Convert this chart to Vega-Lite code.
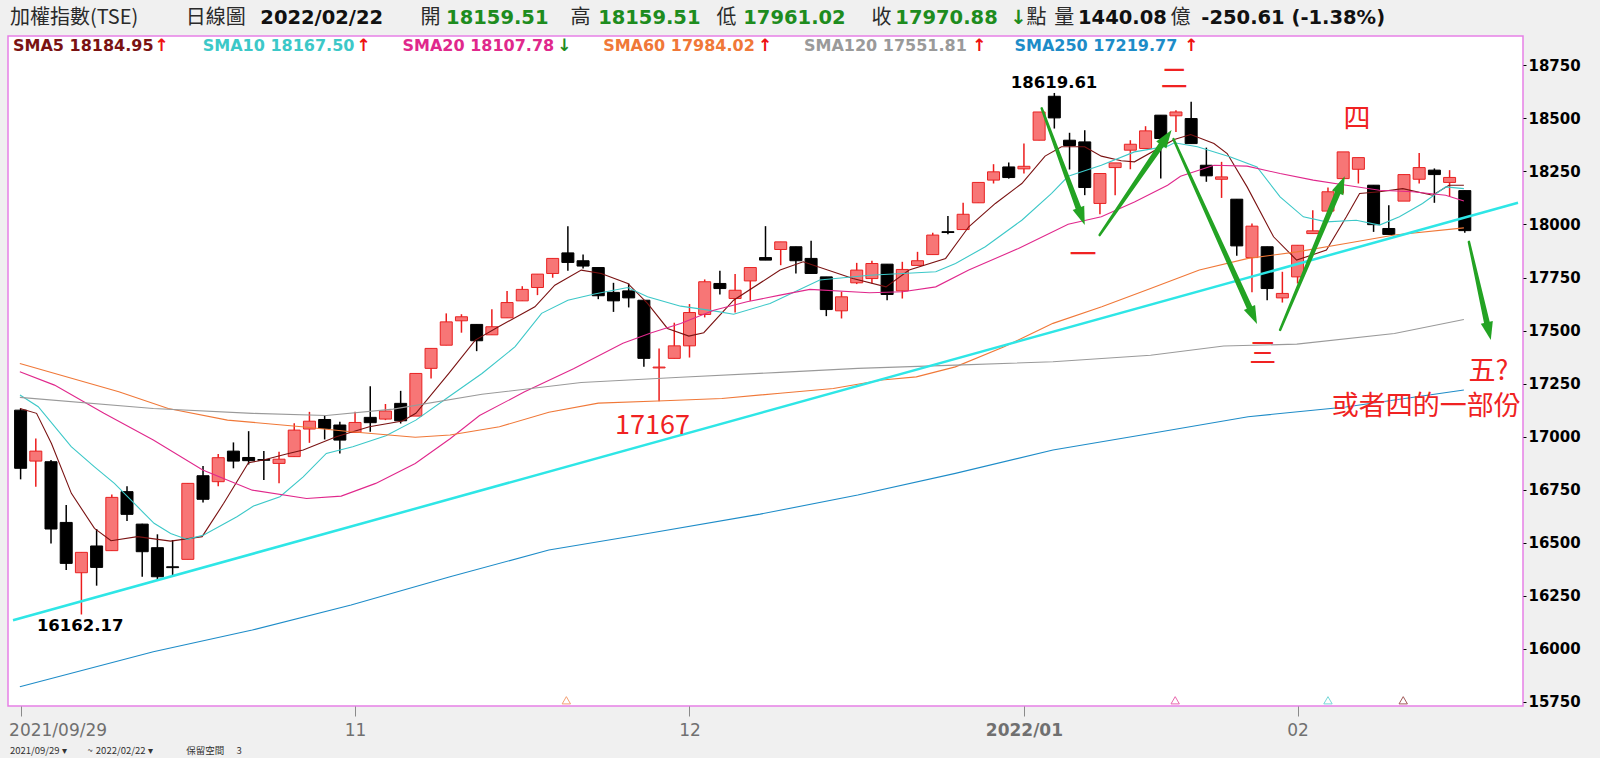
{
  "$schema": "https://vega.github.io/schema/vega-lite/v6.json",
  "width": 1515,
  "height": 670,
  "autosize": {"type": "none"},
  "padding": {"left": 8, "top": 36, "right": 77, "bottom": 52},
  "background": "#f0f0f0",
  "config": {"view": {"fill": "white", "stroke": "#e680e6", "strokeWidth": 1.5}},
  "datasets": {
    "k": [
      {"date":"2021-09-29","i":0,"o":17125,"h":17133,"l":16799,"c":16851},
      {"date":"2021-09-30","i":1,"o":16885,"h":16992,"l":16764,"c":16932},
      {"date":"2021-10-01","i":2,"o":16882,"h":16890,"l":16497,"c":16565},
      {"date":"2021-10-04","i":3,"o":16596,"h":16678,"l":16372,"c":16403},
      {"date":"2021-10-05","i":4,"o":16359,"h":16455,"l":16162.17,"c":16455},
      {"date":"2021-10-06","i":5,"o":16485,"h":16565,"l":16298,"c":16384},
      {"date":"2021-10-07","i":6,"o":16463,"h":16728,"l":16463,"c":16714},
      {"date":"2021-10-08","i":7,"o":16741,"h":16767,"l":16603,"c":16634},
      {"date":"2021-10-12","i":8,"o":16588,"h":16590,"l":16340,"c":16458},
      {"date":"2021-10-13","i":9,"o":16477,"h":16540,"l":16320,"c":16340},
      {"date":"2021-10-14","i":10,"o":16387,"h":16513,"l":16340,"c":16383},
      {"date":"2021-10-15","i":11,"o":16422,"h":16780,"l":16422,"c":16780},
      {"date":"2021-10-18","i":12,"o":16816,"h":16862,"l":16690,"c":16705},
      {"date":"2021-10-19","i":13,"o":16788,"h":16918,"l":16767,"c":16901},
      {"date":"2021-10-20","i":14,"o":16932,"h":16973,"l":16851,"c":16885},
      {"date":"2021-10-21","i":15,"o":16902,"h":17026,"l":16869,"c":16887},
      {"date":"2021-10-22","i":16,"o":16892,"h":16932,"l":16796,"c":16889},
      {"date":"2021-10-25","i":17,"o":16874,"h":16929,"l":16780,"c":16894},
      {"date":"2021-10-26","i":18,"o":16906,"h":17063,"l":16906,"c":17031},
      {"date":"2021-10-27","i":19,"o":17036,"h":17117,"l":16971,"c":17073},
      {"date":"2021-10-28","i":20,"o":17081,"h":17102,"l":16987,"c":17039},
      {"date":"2021-10-29","i":21,"o":17055,"h":17070,"l":16921,"c":16984},
      {"date":"2021-11-01","i":22,"o":17020,"h":17117,"l":17020,"c":17067},
      {"date":"2021-11-02","i":23,"o":17091,"h":17238,"l":17023,"c":17066},
      {"date":"2021-11-03","i":24,"o":17083,"h":17154,"l":17078,"c":17121},
      {"date":"2021-11-04","i":25,"o":17157,"h":17216,"l":17062,"c":17075},
      {"date":"2021-11-05","i":26,"o":17097,"h":17298,"l":17097,"c":17298},
      {"date":"2021-11-08","i":27,"o":17322,"h":17416,"l":17274,"c":17416},
      {"date":"2021-11-09","i":28,"o":17431,"h":17581,"l":17431,"c":17541},
      {"date":"2021-11-10","i":29,"o":17546,"h":17577,"l":17490,"c":17565},
      {"date":"2021-11-11","i":30,"o":17529,"h":17529,"l":17403,"c":17452},
      {"date":"2021-11-12","i":31,"o":17480,"h":17601,"l":17480,"c":17518},
      {"date":"2021-11-15","i":32,"o":17560,"h":17687,"l":17560,"c":17632},
      {"date":"2021-11-16","i":33,"o":17640,"h":17709,"l":17640,"c":17694},
      {"date":"2021-11-17","i":34,"o":17703,"h":17766,"l":17667,"c":17766},
      {"date":"2021-11-18","i":35,"o":17769,"h":17840,"l":17749,"c":17840},
      {"date":"2021-11-19","i":36,"o":17866,"h":17992,"l":17782,"c":17821},
      {"date":"2021-11-22","i":37,"o":17829,"h":17858,"l":17793,"c":17804},
      {"date":"2021-11-23","i":38,"o":17797,"h":17797,"l":17648,"c":17664},
      {"date":"2021-11-24","i":39,"o":17680,"h":17725,"l":17588,"c":17640},
      {"date":"2021-11-25","i":40,"o":17687,"h":17722,"l":17609,"c":17654},
      {"date":"2021-11-26","i":41,"o":17643,"h":17643,"l":17329,"c":17369},
      {"date":"2021-11-29","i":42,"o":17324,"h":17416,"l":17167,"c":17328},
      {"date":"2021-11-30","i":43,"o":17369,"h":17537,"l":17369,"c":17428},
      {"date":"2021-12-01","i":44,"o":17428,"h":17625,"l":17373,"c":17585},
      {"date":"2021-12-02","i":45,"o":17576,"h":17741,"l":17562,"c":17730},
      {"date":"2021-12-03","i":46,"o":17722,"h":17782,"l":17670,"c":17698},
      {"date":"2021-12-06","i":47,"o":17651,"h":17766,"l":17585,"c":17690},
      {"date":"2021-12-07","i":48,"o":17734,"h":17797,"l":17640,"c":17797},
      {"date":"2021-12-08","i":49,"o":17844,"h":17992,"l":17832,"c":17832},
      {"date":"2021-12-09","i":50,"o":17882,"h":17918,"l":17808,"c":17918},
      {"date":"2021-12-10","i":51,"o":17895,"h":17895,"l":17769,"c":17829},
      {"date":"2021-12-13","i":52,"o":17840,"h":17923,"l":17769,"c":17769},
      {"date":"2021-12-14","i":53,"o":17753,"h":17753,"l":17568,"c":17599},
      {"date":"2021-12-15","i":54,"o":17593,"h":17683,"l":17557,"c":17659},
      {"date":"2021-12-16","i":55,"o":17725,"h":17819,"l":17719,"c":17785},
      {"date":"2021-12-17","i":56,"o":17745,"h":17829,"l":17722,"c":17816},
      {"date":"2021-12-20","i":57,"o":17813,"h":17813,"l":17643,"c":17670},
      {"date":"2021-12-21","i":58,"o":17687,"h":17824,"l":17651,"c":17788},
      {"date":"2021-12-22","i":59,"o":17807,"h":17871,"l":17807,"c":17829},
      {"date":"2021-12-23","i":60,"o":17858,"h":17961,"l":17858,"c":17950},
      {"date":"2021-12-24","i":61,"o":17966,"h":18040,"l":17954,"c":17962},
      {"date":"2021-12-27","i":62,"o":17976,"h":18102,"l":17976,"c":18048},
      {"date":"2021-12-28","i":63,"o":18102,"h":18198,"l":18102,"c":18198},
      {"date":"2021-12-29","i":64,"o":18209,"h":18284,"l":18193,"c":18248},
      {"date":"2021-12-30","i":65,"o":18271,"h":18292,"l":18216,"c":18221},
      {"date":"2022-01-03","i":66,"o":18262,"h":18381,"l":18240,"c":18274},
      {"date":"2022-01-04","i":67,"o":18397,"h":18530,"l":18397,"c":18530},
      {"date":"2022-01-05","i":68,"o":18604,"h":18619.61,"l":18452,"c":18502},
      {"date":"2022-01-06","i":69,"o":18397,"h":18432,"l":18259,"c":18372},
      {"date":"2022-01-07","i":70,"o":18389,"h":18444,"l":18138,"c":18174},
      {"date":"2022-01-10","i":71,"o":18099,"h":18240,"l":18048,"c":18240},
      {"date":"2022-01-11","i":72,"o":18268,"h":18290,"l":18138,"c":18290},
      {"date":"2022-01-12","i":73,"o":18350,"h":18397,"l":18260,"c":18378},
      {"date":"2022-01-13","i":74,"o":18358,"h":18463,"l":18358,"c":18441},
      {"date":"2022-01-14","i":75,"o":18515,"h":18515,"l":18216,"c":18405},
      {"date":"2022-01-17","i":76,"o":18512,"h":18538,"l":18436,"c":18530},
      {"date":"2022-01-18","i":77,"o":18499,"h":18578,"l":18381,"c":18381},
      {"date":"2022-01-19","i":78,"o":18279,"h":18362,"l":18201,"c":18229},
      {"date":"2022-01-20","i":79,"o":18213,"h":18295,"l":18125,"c":18224},
      {"date":"2022-01-21","i":80,"o":18119,"h":18119,"l":17852,"c":17899},
      {"date":"2022-01-24","i":81,"o":17844,"h":18004,"l":17680,"c":17992},
      {"date":"2022-01-25","i":82,"o":17895,"h":17895,"l":17643,"c":17698},
      {"date":"2022-01-26","i":83,"o":17654,"h":17777,"l":17632,"c":17675},
      {"date":"2022-02-07","i":84,"o":17753,"h":17902,"l":17722,"c":17902},
      {"date":"2022-02-08","i":85,"o":17957,"h":18067,"l":17957,"c":17970},
      {"date":"2022-02-09","i":86,"o":18063,"h":18174,"l":18063,"c":18154},
      {"date":"2022-02-10","i":87,"o":18216,"h":18342,"l":18146,"c":18342},
      {"date":"2022-02-11","i":88,"o":18260,"h":18315,"l":18193,"c":18315},
      {"date":"2022-02-14","i":89,"o":18185,"h":18185,"l":17965,"c":17999},
      {"date":"2022-02-15","i":90,"o":17981,"h":18091,"l":17953,"c":17953},
      {"date":"2022-02-16","i":91,"o":18110,"h":18235,"l":18110,"c":18235},
      {"date":"2022-02-17","i":92,"o":18213,"h":18337,"l":18193,"c":18268},
      {"date":"2022-02-18","i":93,"o":18256,"h":18264,"l":18102,"c":18235},
      {"date":"2022-02-21","i":94,"o":18198,"h":18256,"l":18130,"c":18221.49},
      {"date":"2022-02-22","i":95,"o":18159.51,"h":18159.51,"l":17961.02,"c":17970.88}
    ],
    "ma": [
      {"s":"SMA5","i":-0.04,"v":17133},{"s":"SMA5","i":1.05,"v":17110},{"s":"SMA5","i":2.03,"v":16968},{"s":"SMA5","i":3.34,"v":16733},{"s":"SMA5","i":4.86,"v":16568},{"s":"SMA5","i":5.95,"v":16510},{"s":"SMA5","i":7.69,"v":16529},{"s":"SMA5","i":9.87,"v":16508},{"s":"SMA5","i":11.94,"v":16529},{"s":"SMA5","i":13.36,"v":16686},{"s":"SMA5","i":14.99,"v":16877},{"s":"SMA5","i":15.97,"v":16890},{"s":"SMA5","i":17.49,"v":16918},{"s":"SMA5","i":18.59,"v":16937},{"s":"SMA5","i":20.76,"v":17000},{"s":"SMA5","i":22.94,"v":17047},{"s":"SMA5","i":25.12,"v":17074},{"s":"SMA5","i":26.0,"v":17110},{"s":"SMA5","i":28.17,"v":17298},{"s":"SMA5","i":29.91,"v":17455},{"s":"SMA5","i":31.44,"v":17518},{"s":"SMA5","i":33.83,"v":17612},{"s":"SMA5","i":35.14,"v":17714},{"s":"SMA5","i":36.88,"v":17785},{"s":"SMA5","i":38.19,"v":17769},{"s":"SMA5","i":39.94,"v":17722},{"s":"SMA5","i":41.24,"v":17628},{"s":"SMA5","i":42.55,"v":17510},{"s":"SMA5","i":43.96,"v":17474},{"s":"SMA5","i":44.94,"v":17490},{"s":"SMA5","i":46.9,"v":17643},{"s":"SMA5","i":49.96,"v":17785},{"s":"SMA5","i":51.48,"v":17824},{"s":"SMA5","i":54.75,"v":17745},{"s":"SMA5","i":56.93,"v":17706},{"s":"SMA5","i":58.45,"v":17785},{"s":"SMA5","i":60.85,"v":17840},{"s":"SMA5","i":62.37,"v":17989},{"s":"SMA5","i":64.12,"v":18099},{"s":"SMA5","i":65.86,"v":18193},{"s":"SMA5","i":67.39,"v":18322},{"s":"SMA5","i":68.47,"v":18366},{"s":"SMA5","i":70,"v":18366},{"s":"SMA5","i":71.09,"v":18322},{"s":"SMA5","i":72.4,"v":18300},{"s":"SMA5","i":73.27,"v":18295},{"s":"SMA5","i":75.89,"v":18400},{"s":"SMA5","i":76.97,"v":18424},{"s":"SMA5","i":78.5,"v":18381},{"s":"SMA5","i":79.37,"v":18334},{"s":"SMA5","i":80.68,"v":18177},{"s":"SMA5","i":82.42,"v":17942},{"s":"SMA5","i":83.94,"v":17832},{"s":"SMA5","i":85.9,"v":17879},{"s":"SMA5","i":87.21,"v":18036},{"s":"SMA5","i":88.08,"v":18146},{"s":"SMA5","i":89.39,"v":18154},{"s":"SMA5","i":90.92,"v":18169},{"s":"SMA5","i":92.88,"v":18138},{"s":"SMA5","i":93.96,"v":18185},{"s":"SMA5","i":94.94,"v":18185},
      {"s":"SMA10","i":-0.04,"v":17196},{"s":"SMA10","i":1.16,"v":17141},{"s":"SMA10","i":3.33,"v":16953},{"s":"SMA10","i":4.86,"v":16858},{"s":"SMA10","i":6.17,"v":16780},{"s":"SMA10","i":7.69,"v":16670},{"s":"SMA10","i":8.78,"v":16592},{"s":"SMA10","i":9.87,"v":16544},{"s":"SMA10","i":10.96,"v":16516},{"s":"SMA10","i":12.05,"v":16537},{"s":"SMA10","i":14.23,"v":16623},{"s":"SMA10","i":15.32,"v":16673},{"s":"SMA10","i":17.06,"v":16717},{"s":"SMA10","i":18.59,"v":16811},{"s":"SMA10","i":20.11,"v":16921},{"s":"SMA10","i":21.85,"v":16953},{"s":"SMA10","i":24.03,"v":17004},{"s":"SMA10","i":26.0,"v":17078},{"s":"SMA10","i":28.17,"v":17188},{"s":"SMA10","i":30.35,"v":17298},{"s":"SMA10","i":32.53,"v":17424},{"s":"SMA10","i":34.27,"v":17581},{"s":"SMA10","i":36.0,"v":17643},{"s":"SMA10","i":37.75,"v":17672},{"s":"SMA10","i":39.94,"v":17703},{"s":"SMA10","i":41.24,"v":17659},{"s":"SMA10","i":43.42,"v":17615},{"s":"SMA10","i":45.6,"v":17593},{"s":"SMA10","i":46.9,"v":17577},{"s":"SMA10","i":49.3,"v":17628},{"s":"SMA10","i":52.57,"v":17738},{"s":"SMA10","i":55.84,"v":17761},{"s":"SMA10","i":58.02,"v":17769},{"s":"SMA10","i":60.2,"v":17777},{"s":"SMA10","i":61.5,"v":17816},{"s":"SMA10","i":63.46,"v":17895},{"s":"SMA10","i":65.86,"v":18020},{"s":"SMA10","i":67.82,"v":18146},{"s":"SMA10","i":68.91,"v":18227},{"s":"SMA10","i":71.09,"v":18279},{"s":"SMA10","i":73.27,"v":18342},{"s":"SMA10","i":75.45,"v":18369},{"s":"SMA10","i":75.89,"v":18385},{"s":"SMA10","i":77.41,"v":18366},{"s":"SMA10","i":79.59,"v":18318},{"s":"SMA10","i":81.33,"v":18271},{"s":"SMA10","i":82.85,"v":18130},{"s":"SMA10","i":84.38,"v":18036},{"s":"SMA10","i":85.9,"v":18012},{"s":"SMA10","i":87.86,"v":18020},{"s":"SMA10","i":89.39,"v":17997},{"s":"SMA10","i":90.7,"v":18036},{"s":"SMA10","i":92.22,"v":18099},{"s":"SMA10","i":93.74,"v":18177},{"s":"SMA10","i":94.94,"v":18169},
      {"s":"SMA20","i":-0.05,"v":17306},{"s":"SMA20","i":2.23,"v":17243},{"s":"SMA20","i":5.48,"v":17110},{"s":"SMA20","i":8.73,"v":16984},{"s":"SMA20","i":11.98,"v":16843},{"s":"SMA20","i":15.24,"v":16748},{"s":"SMA20","i":18.81,"v":16709},{"s":"SMA20","i":21.09,"v":16720},{"s":"SMA20","i":23.36,"v":16780},{"s":"SMA20","i":25.96,"v":16874},{"s":"SMA20","i":28.25,"v":16990},{"s":"SMA20","i":30.19,"v":17100},{"s":"SMA20","i":33.12,"v":17210},{"s":"SMA20","i":36.37,"v":17320},{"s":"SMA20","i":39.62,"v":17440},{"s":"SMA20","i":41.5,"v":17490},{"s":"SMA20","i":43.42,"v":17533},{"s":"SMA20","i":45.6,"v":17596},{"s":"SMA20","i":47.78,"v":17636},{"s":"SMA20","i":49.96,"v":17667},{"s":"SMA20","i":51.92,"v":17694},{"s":"SMA20","i":55.84,"v":17678},{"s":"SMA20","i":58.02,"v":17683},{"s":"SMA20","i":60.2,"v":17706},{"s":"SMA20","i":62.37,"v":17785},{"s":"SMA20","i":65.64,"v":17887},{"s":"SMA20","i":68.91,"v":18001},{"s":"SMA20","i":71.09,"v":18036},{"s":"SMA20","i":73.27,"v":18106},{"s":"SMA20","i":75.45,"v":18185},{"s":"SMA20","i":76.3,"v":18227},{"s":"SMA20","i":78.5,"v":18279},{"s":"SMA20","i":80.68,"v":18275},{"s":"SMA20","i":82.85,"v":18240},{"s":"SMA20","i":85.03,"v":18209},{"s":"SMA20","i":87.21,"v":18185},{"s":"SMA20","i":89.39,"v":18161},{"s":"SMA20","i":91.57,"v":18154},{"s":"SMA20","i":93.74,"v":18138},{"s":"SMA20","i":94.94,"v":18111},
      {"s":"SMA60","i":-0.05,"v":17345},{"s":"SMA60","i":6.46,"v":17212},{"s":"SMA60","i":9.71,"v":17133},{"s":"SMA60","i":13.61,"v":17078},{"s":"SMA60","i":18.49,"v":17047},{"s":"SMA60","i":21.74,"v":17023},{"s":"SMA60","i":25.96,"v":16997},{"s":"SMA60","i":28.25,"v":17008},{"s":"SMA60","i":31.5,"v":17047},{"s":"SMA60","i":34.75,"v":17115},{"s":"SMA60","i":38.0,"v":17158},{"s":"SMA60","i":41.9,"v":17168},{"s":"SMA60","i":46.13,"v":17180},{"s":"SMA60","i":49.96,"v":17205},{"s":"SMA60","i":53.46,"v":17227},{"s":"SMA60","i":56.67,"v":17267},{"s":"SMA60","i":58.92,"v":17282},{"s":"SMA60","i":61.49,"v":17329},{"s":"SMA60","i":64.7,"v":17424},{"s":"SMA60","i":67.91,"v":17534},{"s":"SMA60","i":71.12,"v":17612},{"s":"SMA60","i":74.33,"v":17698},{"s":"SMA60","i":77.54,"v":17785},{"s":"SMA60","i":80.75,"v":17840},{"s":"SMA60","i":83.95,"v":17871},{"s":"SMA60","i":87.17,"v":17910},{"s":"SMA60","i":90.37,"v":17950},{"s":"SMA60","i":94.94,"v":17984},
      {"s":"SMA120","i":-0.05,"v":17185},{"s":"SMA120","i":8.73,"v":17133},{"s":"SMA120","i":15.24,"v":17110},{"s":"SMA120","i":20.11,"v":17100},{"s":"SMA120","i":24.5,"v":17130},{"s":"SMA120","i":30.35,"v":17200},{"s":"SMA120","i":36.88,"v":17255},{"s":"SMA120","i":43.42,"v":17280},{"s":"SMA120","i":49.96,"v":17303},{"s":"SMA120","i":55.07,"v":17322},{"s":"SMA120","i":61.49,"v":17337},{"s":"SMA120","i":67.91,"v":17353},{"s":"SMA120","i":74.33,"v":17384},{"s":"SMA120","i":79.14,"v":17427},{"s":"SMA120","i":83.95,"v":17436},{"s":"SMA120","i":90.37,"v":17486},{"s":"SMA120","i":94.94,"v":17552},
      {"s":"SMA250","i":-0.05,"v":15822},{"s":"SMA250","i":8.73,"v":15987},{"s":"SMA250","i":15.24,"v":16089},{"s":"SMA250","i":21.74,"v":16207},{"s":"SMA250","i":28.25,"v":16340},{"s":"SMA250","i":34.75,"v":16466},{"s":"SMA250","i":41.25,"v":16544},{"s":"SMA250","i":48.65,"v":16635},{"s":"SMA250","i":55.07,"v":16725},{"s":"SMA250","i":61.49,"v":16827},{"s":"SMA250","i":67.91,"v":16937},{"s":"SMA250","i":74.33,"v":17015},{"s":"SMA250","i":80.75,"v":17094},{"s":"SMA250","i":87.17,"v":17140},{"s":"SMA250","i":94.94,"v":17220}
    ],
    "trend": [{"i":-0.5,"v":16135},{"i":98.5,"v":18102}],
    "arrows": [
      {"arrow":"1","part":"start","i":67.17,"v":18547},{"arrow":"1","part":"neck","i":69.68,"v":18059},
      {"arrow":"2","part":"start","i":70.98,"v":17950},{"arrow":"2","part":"neck","i":75.19,"v":18391},
      {"arrow":"3","part":"start","i":75.84,"v":18402},{"arrow":"3","part":"neck","i":80.95,"v":17591},
      {"arrow":"4","part":"start","i":82.85,"v":17503},{"arrow":"4","part":"neck","i":86.75,"v":18168},
      {"arrow":"5","part":"start","i":95.27,"v":17918},{"arrow":"5","part":"neck","i":96.51,"v":17520}
    ],
    "heads": [
      {"arrow":"1","i":70.0,"v":17998},
      {"arrow":"2","i":75.71,"v":18445},
      {"arrow":"3","i":81.33,"v":17531},
      {"arrow":"4","i":87.1,"v":18227},
      {"arrow":"5","i":96.71,"v":17456}
    ],
    "notes": [
      {"t":"17167","i":41.57,"v":17050},
      {"t":"一","i":69.89,"v":17853},
      {"t":"二","i":75.88,"v":18681},
      {"t":"三","i":81.71,"v":17385},
      {"t":"四","i":87.91,"v":18492},
      {"t":"五?","i":96.55,"v":17306},
      {"t":"或者四的一部份","i":92.47,"v":17141}
    ],
    "extremes": [
      {"t":"16162.17","i":3.92,"v":16108},
      {"t":"18619.61","i":67.98,"v":18668}
    ],
    "markers": [
      {"s":"SMA60","i":35.9,"v":15758},
      {"s":"SMA20","i":75.95,"v":15758},
      {"s":"SMA10","i":86.0,"v":15758},
      {"s":"SMA5","i":90.95,"v":15758}
    ],
    "hdrLabels": [
      {"t":"加權指數(TSE)","i":-0.7,"v":18973},
      {"t":"日線圖","i":10.87,"v":18973},
      {"t":"開","i":26.3,"v":18973},
      {"t":"高","i":36.17,"v":18973},
      {"t":"低","i":45.77,"v":18973},
      {"t":"收","i":55.97,"v":18973},
      {"t":"點","i":66.17,"v":18973},
      {"t":"量","i":68.0,"v":18973},
      {"t":"億","i":75.64,"v":18973}
    ],
    "hdrBlack": [
      {"t":"2022/02/22","i":15.77,"v":18973},
      {"t":"1440.08","i":69.56,"v":18973},
      {"t":"-250.61 (-1.38%)","i":77.67,"v":18973}
    ],
    "hdrGreen": [
      {"t":"18159.51","i":27.99,"v":18973},
      {"t":"18159.51","i":37.99,"v":18973},
      {"t":"17961.02","i":47.54,"v":18973},
      {"t":"17970.88","i":57.54,"v":18973},
      {"t":"↓","i":65.1,"v":18973}
    ],
    "smaLabels": [
      {"s":"SMA5","t":"SMA5 18184.95","i":-0.5,"v":18841},
      {"s":"SMA10","t":"SMA10 18167.50","i":11.98,"v":18841},
      {"s":"SMA20","t":"SMA20 18107.78","i":25.12,"v":18841},
      {"s":"SMA60","t":"SMA60 17984.02","i":38.32,"v":18841},
      {"s":"SMA120","t":"SMA120 17551.81","i":51.53,"v":18841},
      {"s":"SMA250","t":"SMA250 17219.77","i":65.38,"v":18841}
    ],
    "smaArrows": [
      {"t":"↑","i":8.8,"v":18841},
      {"t":"↑","i":22.1,"v":18841},
      {"t":"↓","i":35.3,"v":18841},
      {"t":"↑","i":48.5,"v":18841},
      {"t":"↑","i":62.6,"v":18841},
      {"t":"↑","i":76.55,"v":18841}
    ],
    "controls": [
      {"t":"2021/09/29 ▾","i":-0.7,"v":15517},
      {"t":"~","i":4.4,"v":15517},
      {"t":"2022/02/22 ▾","i":4.95,"v":15517},
      {"t":"保留空間","i":10.9,"v":15517},
      {"t":"3","i":14.2,"v":15517}
    ]
  },
  "layer": [
    {
      "data": {"name": "k"},
      "mark": {"type": "rule", "strokeWidth": 1.5},
      "encoding": {
        "x": {"field": "i", "type": "quantitative", "title": null, "scale": {"domain": [-0.5, 98.5], "nice": false, "zero": false},
          "axis": {"values": [0, 22, 44, 66, 84], "title": null, "grid": false, "domain": false, "labelOverlap": false, "labelFlush": false,
            "labelExpr": "datum.value == 0 ? '2021/09/29' : datum.value == 22 ? '11' : datum.value == 44 ? '12' : datum.value == 66 ? '2022/01' : '02'",
            "tickSize": 10, "tickColor": "#8a8a8a", "tickWidth": 1, "labelFont": "DejaVu Sans", "labelFontSize": 17, "labelColor": "#707070", "labelPadding": 6,
            "labelFontWeight": {"condition": {"test": "datum.value == 66", "value": "bold"}, "value": "normal"},
            "labelAlign": {"condition": {"test": "datum.value == 0", "value": "left"}, "value": "center"},
            "labelOffset": {"condition": {"test": "datum.value == 0", "value": -12}, "value": 0}}},
        "y": {"field": "l", "type": "quantitative", "title": null, "scale": {"domain": [15731, 18888], "nice": false, "zero": false},
          "axis": {"orient": "right", "format": "d", "values": [15750,15875,16000,16125,16250,16375,16500,16625,16750,16875,17000,17125,17250,17375,17500,17625,17750,17875,18000,18125,18250,18375,18500,18625,18750],
            "title": null, "grid": false, "domain": false, "labelOverlap": false, "labelFlush": false, "tickSize": 3, "tickColor": "#000", "labelFont": "DejaVu Sans", "labelFontSize": 15, "labelFontWeight": "bold", "labelColor": "#000", "labelPadding": 2}},
        "y2": {"field": "h"},
        "color": {"condition": {"test": "datum.c >= datum.o", "value": "#ec1c1c"}, "value": "#000000"}
      }
    },
    {
      "data": {"name": "k"},
      "mark": {"type": "bar", "size": 12, "strokeWidth": 1},
      "encoding": {
        "x": {"field": "i", "type": "quantitative", "title": null, "scale": {"domain": [-0.5, 98.5], "nice": false, "zero": false}},
        "y": {"field": "o", "type": "quantitative", "title": null, "scale": {"domain": [15731, 18888], "nice": false, "zero": false}},
        "y2": {"field": "c"},
        "fill": {"condition": {"test": "datum.c >= datum.o", "value": "#f77676"}, "value": "#000000"},
        "stroke": {"condition": {"test": "datum.c >= datum.o", "value": "#e82222"}, "value": "#000000"}
      }
    },
    {
      "data": {"name": "ma"},
      "mark": {"type": "line", "strokeWidth": 1.1},
      "encoding": {
        "x": {"field": "i", "type": "quantitative", "title": null, "scale": {"domain": [-0.5, 98.5], "nice": false, "zero": false}},
        "y": {"field": "v", "type": "quantitative", "title": null, "scale": {"domain": [15731, 18888], "nice": false, "zero": false}},
        "color": {"field": "s", "type": "nominal", "legend": null,
          "scale": {"domain": ["SMA5","SMA10","SMA20","SMA60","SMA120","SMA250"], "range": ["#7a1212","#3cc8c8","#e0288c","#f07838","#9a9a9a","#1e8cc8"]}}
      }
    },
    {
      "data": {"name": "trend"},
      "mark": {"type": "line", "strokeWidth": 2.5, "color": "#2ee6e6"},
      "encoding": {
        "x": {"field": "i", "type": "quantitative", "title": null, "scale": {"domain": [-0.5, 98.5], "nice": false, "zero": false}},
        "y": {"field": "v", "type": "quantitative", "title": null, "scale": {"domain": [15731, 18888], "nice": false, "zero": false}}
      }
    },
    {
      "data": {"name": "markers"},
      "mark": {"type": "point", "shape": "triangle-up", "filled": false, "size": 70, "strokeWidth": 1},
      "encoding": {
        "x": {"field": "i", "type": "quantitative", "title": null, "scale": {"domain": [-0.5, 98.5], "nice": false, "zero": false}},
        "y": {"field": "v", "type": "quantitative", "title": null, "scale": {"domain": [15731, 18888], "nice": false, "zero": false}},
        "color": {"field": "s", "type": "nominal", "legend": null}
      }
    },
    {
      "data": {"name": "arrows"},
      "mark": {"type": "trail", "color": "#23a323"},
      "encoding": {
        "x": {"field": "i", "type": "quantitative", "title": null, "scale": {"domain": [-0.5, 98.5], "nice": false, "zero": false}},
        "y": {"field": "v", "type": "quantitative", "title": null, "scale": {"domain": [15731, 18888], "nice": false, "zero": false}},
        "detail": {"field": "arrow", "type": "nominal"},
        "size": {"field": "part", "type": "nominal", "legend": null, "scale": {"domain": ["start", "neck"], "range": [2.5, 6]}}
      }
    },
    {
      "data": {"name": "heads"},
      "transform": [{"filter": "datum.arrow == '1'"}],
      "mark": {"type": "point", "shape": "M0,0L0.75,2.2L-0.75,2.2Z", "filled": true, "color": "#23a323", "opacity": 1, "size": 270, "angle": 159.6},
      "encoding": {
        "x": {"field": "i", "type": "quantitative", "title": null, "scale": {"domain": [-0.5, 98.5], "nice": false, "zero": false}},
        "y": {"field": "v", "type": "quantitative", "title": null, "scale": {"domain": [15731, 18888], "nice": false, "zero": false}}
      }
    },
    {
      "data": {"name": "heads"},
      "transform": [{"filter": "datum.arrow == '2'"}],
      "mark": {"type": "point", "shape": "M0,0L0.75,2.2L-0.75,2.2Z", "filled": true, "color": "#23a323", "opacity": 1, "size": 270, "angle": 34.5},
      "encoding": {
        "x": {"field": "i", "type": "quantitative", "title": null, "scale": {"domain": [-0.5, 98.5], "nice": false, "zero": false}},
        "y": {"field": "v", "type": "quantitative", "title": null, "scale": {"domain": [15731, 18888], "nice": false, "zero": false}}
      }
    },
    {
      "data": {"name": "heads"},
      "transform": [{"filter": "datum.arrow == '3'"}],
      "mark": {"type": "point", "shape": "M0,0L0.75,2.2L-0.75,2.2Z", "filled": true, "color": "#23a323", "opacity": 1, "size": 270, "angle": 155.5},
      "encoding": {
        "x": {"field": "i", "type": "quantitative", "title": null, "scale": {"domain": [-0.5, 98.5], "nice": false, "zero": false}},
        "y": {"field": "v", "type": "quantitative", "title": null, "scale": {"domain": [15731, 18888], "nice": false, "zero": false}}
      }
    },
    {
      "data": {"name": "heads"},
      "transform": [{"filter": "datum.arrow == '4'"}],
      "mark": {"type": "point", "shape": "M0,0L0.75,2.2L-0.75,2.2Z", "filled": true, "color": "#23a323", "opacity": 1, "size": 270, "angle": 22.9},
      "encoding": {
        "x": {"field": "i", "type": "quantitative", "title": null, "scale": {"domain": [-0.5, 98.5], "nice": false, "zero": false}},
        "y": {"field": "v", "type": "quantitative", "title": null, "scale": {"domain": [15731, 18888], "nice": false, "zero": false}}
      }
    },
    {
      "data": {"name": "heads"},
      "transform": [{"filter": "datum.arrow == '5'"}],
      "mark": {"type": "point", "shape": "M0,0L0.75,2.2L-0.75,2.2Z", "filled": true, "color": "#23a323", "opacity": 1, "size": 270, "angle": 167.3},
      "encoding": {
        "x": {"field": "i", "type": "quantitative", "title": null, "scale": {"domain": [-0.5, 98.5], "nice": false, "zero": false}},
        "y": {"field": "v", "type": "quantitative", "title": null, "scale": {"domain": [15731, 18888], "nice": false, "zero": false}}
      }
    },
    {
      "data": {"name": "notes"},
      "mark": {"type": "text", "font": "Noto Sans CJK TC", "fontSize": 27, "color": "#f02222", "align": "center", "baseline": "middle"},
      "encoding": {
        "x": {"field": "i", "type": "quantitative", "title": null, "scale": {"domain": [-0.5, 98.5], "nice": false, "zero": false}},
        "y": {"field": "v", "type": "quantitative", "title": null, "scale": {"domain": [15731, 18888], "nice": false, "zero": false}},
        "text": {"field": "t"}
      }
    },
    {
      "data": {"name": "extremes"},
      "mark": {"type": "text", "font": "DejaVu Sans", "fontSize": 16.5, "fontWeight": "bold", "color": "#000", "align": "center", "baseline": "middle"},
      "encoding": {
        "x": {"field": "i", "type": "quantitative", "title": null, "scale": {"domain": [-0.5, 98.5], "nice": false, "zero": false}},
        "y": {"field": "v", "type": "quantitative", "title": null, "scale": {"domain": [15731, 18888], "nice": false, "zero": false}},
        "text": {"field": "t"}
      }
    },
    {
      "data": {"name": "hdrLabels"},
      "mark": {"type": "text", "font": "Noto Sans CJK TC", "fontSize": 20, "color": "#2a2a2a", "align": "left", "baseline": "middle"},
      "encoding": {
        "x": {"field": "i", "type": "quantitative", "title": null, "scale": {"domain": [-0.5, 98.5], "nice": false, "zero": false}},
        "y": {"field": "v", "type": "quantitative", "title": null, "scale": {"domain": [15731, 18888], "nice": false, "zero": false}},
        "text": {"field": "t"}
      }
    },
    {
      "data": {"name": "hdrBlack"},
      "mark": {"type": "text", "font": "DejaVu Sans", "fontSize": 19.5, "fontWeight": "bold", "color": "#111", "align": "left", "baseline": "middle"},
      "encoding": {
        "x": {"field": "i", "type": "quantitative", "title": null, "scale": {"domain": [-0.5, 98.5], "nice": false, "zero": false}},
        "y": {"field": "v", "type": "quantitative", "title": null, "scale": {"domain": [15731, 18888], "nice": false, "zero": false}},
        "text": {"field": "t"}
      }
    },
    {
      "data": {"name": "hdrGreen"},
      "mark": {"type": "text", "font": "DejaVu Sans", "fontSize": 19.5, "fontWeight": "bold", "color": "#1e8c1e", "align": "left", "baseline": "middle"},
      "encoding": {
        "x": {"field": "i", "type": "quantitative", "title": null, "scale": {"domain": [-0.5, 98.5], "nice": false, "zero": false}},
        "y": {"field": "v", "type": "quantitative", "title": null, "scale": {"domain": [15731, 18888], "nice": false, "zero": false}},
        "text": {"field": "t"}
      }
    },
    {
      "data": {"name": "smaLabels"},
      "mark": {"type": "text", "font": "DejaVu Sans", "fontSize": 16, "fontWeight": "bold", "align": "left", "baseline": "middle"},
      "encoding": {
        "x": {"field": "i", "type": "quantitative", "title": null, "scale": {"domain": [-0.5, 98.5], "nice": false, "zero": false}},
        "y": {"field": "v", "type": "quantitative", "title": null, "scale": {"domain": [15731, 18888], "nice": false, "zero": false}},
        "text": {"field": "t"},
        "color": {"field": "s", "type": "nominal", "legend": null}
      }
    },
    {
      "data": {"name": "smaArrows"},
      "mark": {"type": "text", "font": "DejaVu Sans", "fontSize": 17, "fontWeight": "bold", "align": "left", "baseline": "middle"},
      "encoding": {
        "x": {"field": "i", "type": "quantitative", "title": null, "scale": {"domain": [-0.5, 98.5], "nice": false, "zero": false}},
        "y": {"field": "v", "type": "quantitative", "title": null, "scale": {"domain": [15731, 18888], "nice": false, "zero": false}},
        "text": {"field": "t"},
        "fill": {"condition": {"test": "datum.t == '↓'", "value": "#1e8c1e"}, "value": "#ee1111"}
      }
    },
    {
      "data": {"name": "controls"},
      "mark": {"type": "text", "font": "Noto Sans CJK TC", "fontSize": 9.5, "color": "#333", "align": "left", "baseline": "middle"},
      "encoding": {
        "x": {"field": "i", "type": "quantitative", "title": null, "scale": {"domain": [-0.5, 98.5], "nice": false, "zero": false}},
        "y": {"field": "v", "type": "quantitative", "title": null, "scale": {"domain": [15731, 18888], "nice": false, "zero": false}},
        "text": {"field": "t"}
      }
    }
  ]
}
